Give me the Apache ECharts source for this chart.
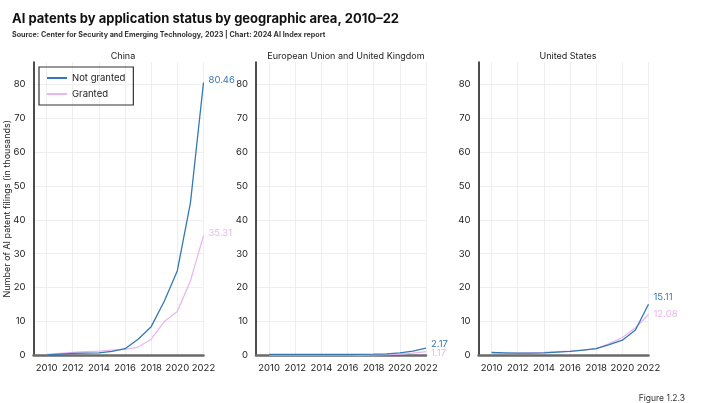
<!DOCTYPE html>
<html><head><meta charset="utf-8">
<script src="https://cdn.jsdelivr.net/npm/echarts@6/dist/echarts.min.js"></script>
<style>html,body{margin:0;padding:0;background:#fff}#c{width:712px;height:403px}</style>
</head><body><div id="c"></div>
<script>
const years = [2010,2011,2012,2013,2014,2015,2016,2017,2018,2019,2020,2021,2022];
const yearTicks = [2010,2012,2014,2016,2018,2020,2022];
const valueTicks = [0,10,20,30,40,50,60,70,80];
const panels = ['China','European Union and United Kingdom','United States'];
const chinaNotGranted = [0.2,0.4,0.6,0.7,0.8,1.2,2.0,4.8,8.5,16,25,45,80.46];
const chinaGranted    = [0.3,0.6,0.9,1.1,1.3,1.6,1.8,2.5,4.8,10,13,22,35.31];
const euNotGranted    = [0.3,0.3,0.3,0.3,0.3,0.3,0.3,0.35,0.4,0.5,0.8,1.3,2.17];
const euGranted       = [0.1,0.1,0.1,0.1,0.1,0.1,0.1,0.15,0.2,0.25,0.4,0.7,1.17];
const usNotGranted    = [0.9,0.8,0.7,0.7,0.8,1.0,1.2,1.6,2.0,3.2,4.5,7.5,15.11];
const usGranted       = [0.6,0.6,0.7,0.8,0.9,1.1,1.3,1.6,2.0,3.5,5.3,8.2,12.08];

const BLUE = '#3478b4', PINK = '#e8b6f0';
const lefts = [33.5, 256, 478.5];
const FONT = 'Inter, "Noto Sans", sans-serif';
const grids = lefts.map(l => ({left:l, width:170, top:62, height:293.5}));
const xAxes = lefts.map((l,i) => ({
  type:'value', gridIndex:i, min:2009, max:2022,
  axisLine:{show:true, lineStyle:{color:'#6a6a6a', width:2.5}},
  axisTick:{show:false, customValues:yearTicks},
  axisLabel:{customValues:yearTicks, color:'#222', fontSize:9.5, fontFamily:FONT, margin:8, formatter: v => String(v)},
  splitLine:{show:true, lineStyle:{color:'#eeeeee', width:1}}
}));
const yAxes = lefts.map((l,i) => ({
  type:'value', gridIndex:i, min:0, max:86.5,
  axisLine:{show:true, lineStyle:{color:'#111', width:1.5}},
  axisTick:{show:false, customValues:valueTicks},
  axisLabel:{customValues:valueTicks, color:'#222', fontSize:9.5, fontFamily:FONT, margin:8},
  splitLine:{show:true, lineStyle:{color:'#eeeeee', width:1}},
  name: i===0 ? 'Number of AI patent filings (in thousands)' : '',
  nameLocation:'middle', nameGap:22, nameRotate:90, nameMoveOverlap:false,
  nameTextStyle:{color:'#222', fontSize:9, fontFamily:FONT}
}));
function pairs(arr){ return years.map((y,i)=>[y,arr[i]]); }
function mk(name, arr, idx, color, dy){
  return {
    type:'line', name:name, xAxisIndex:idx, yAxisIndex:idx, data:pairs(arr),
    showSymbol:false, symbol:'none', smooth:false,
    lineStyle:{color:color, width:1.3}, itemStyle:{color:color},
    endLabel:{show:true, formatter: p => p.value[1].toFixed(2), color:color, fontSize:9.5, fontFamily:FONT, offset:[2,dy], distance:3},
    emphasis:{disabled:true}, z: name==='Not granted'?3:2
  };
}
const series = [
  mk('Not granted', chinaNotGranted, 0, BLUE, -2),
  mk('Granted', chinaGranted, 0, PINK, -3),
  mk('Not granted', euNotGranted, 1, BLUE, -4),
  mk('Granted', euGranted, 1, PINK, 2),
  mk('Not granted', usNotGranted, 2, BLUE, -7),
  mk('Granted', usGranted, 2, PINK, 0)
];
const titles = [
  {text:'AI patents by application status by geographic area, 2010–22', left:7, top:8,
   textStyle:{fontSize:13, fontWeight:'bold', color:'#111', fontFamily:FONT}},
  {text:'Source: Center for Security and Emerging Technology, 2023 | Chart: 2024 AI Index report', left:7, top:26,
   textStyle:{fontSize:7.2, fontWeight:'bold', color:'#333', fontFamily:FONT}},
  {text:'Figure 1.2.3', right:22, top:389, textStyle:{fontSize:8.5, fontWeight:'normal', color:'#333', fontFamily:FONT}}
];
const centers = [118, 341, 563];
panels.forEach((p,i)=>titles.push({text:p, left:centers[i], top:47, textAlign:'center',
  textStyle:{fontSize:9, fontWeight:'normal', color:'#222', fontFamily:FONT}}));
const chart = echarts.init(document.getElementById('c'));
chart.setOption({
  animation:false,
  title:titles,
  grid:grids, xAxis:xAxes, yAxis:yAxes, series:series,
  legend:{data:['Not granted','Granted'], orient:'vertical', left:39, top:67,
    borderColor:'#333', borderWidth:1.2, padding:[6,8,6,8], itemGap:6,
    itemWidth:20, itemHeight:2, icon:'rect',
    textStyle:{fontSize:9.5, color:'#222', fontFamily:FONT}}
});
</script></body></html>
